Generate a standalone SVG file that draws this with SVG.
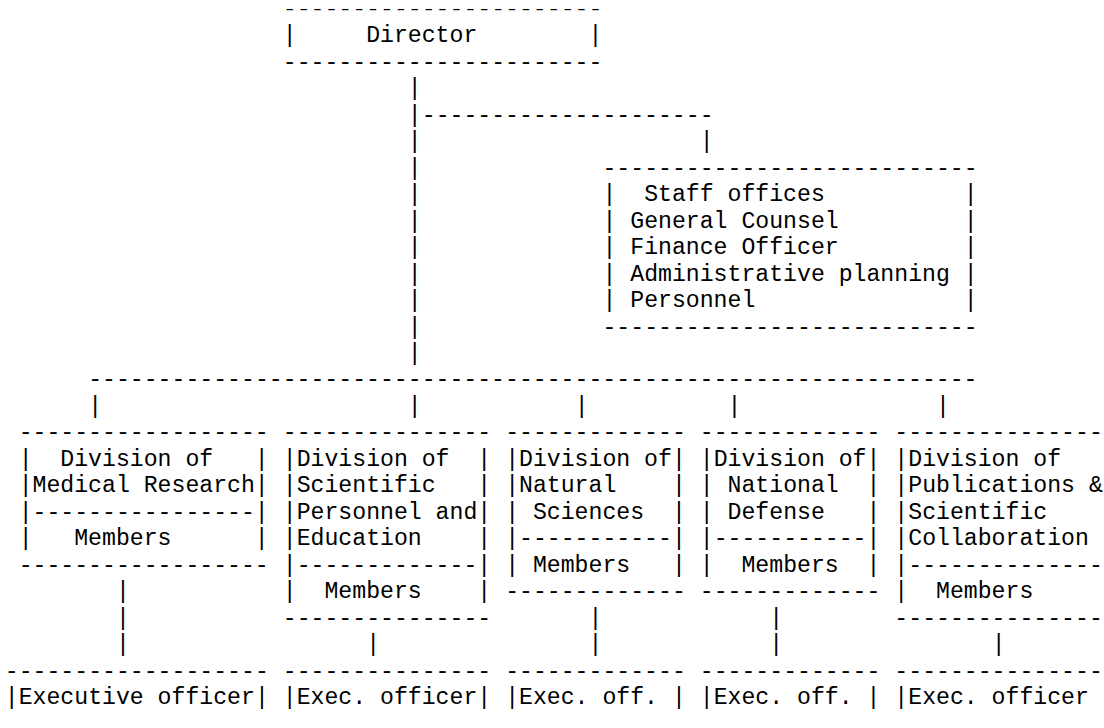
<svg xmlns="http://www.w3.org/2000/svg" width="1104" height="728" viewBox="0 0 1104 728">
<style>
text{font-family:"Liberation Mono","Courier New",monospace;font-size:23.17px;fill:#000;white-space:pre}
</style>
<rect width="1104" height="728" fill="#fff"/>
<g id="director">
<text transform="translate(282.75,14) scale(1,0.7)" x="0" y="0">-----------------------</text>
<text x="282.75" y="42.46">|     Director        |</text>
<text x="282.75" y="68.92">-----------------------</text>
</g>
<g id="staff-offices">
<text x="602.45" y="174.76">---------------------------</text>
<text x="602.45" y="201.22">|  Staff offices          |</text>
<text x="602.45" y="227.68">| General Counsel         |</text>
<text x="602.45" y="254.14">| Finance Officer         |</text>
<text x="602.45" y="280.6">| Administrative planning |</text>
<text x="602.45" y="307.06">| Personnel               |</text>
<text x="602.45" y="333.52">---------------------------</text>
</g>
<g id="div-medical">
<text x="18.65" y="439.36">------------------</text>
<text x="18.65" y="465.82">|  Division of   |</text>
<text x="18.65" y="492.28">|Medical Research|</text>
<text x="18.65" y="518.74">|----------------|</text>
<text x="18.65" y="545.2">|   Members      |</text>
<text x="18.65" y="571.66">------------------</text>
</g>
<g id="div-personnel">
<text x="282.75" y="439.36">---------------</text>
<text x="282.75" y="465.82">|Division of  |</text>
<text x="282.75" y="492.28">|Scientific   |</text>
<text x="282.75" y="518.74">|Personnel and|</text>
<text x="282.75" y="545.2">|Education    |</text>
<text x="282.75" y="571.66">|-------------|</text>
<text x="282.75" y="598.12">|  Members    |</text>
<text x="282.75" y="624.58">---------------</text>
</g>
<g id="div-natural">
<text x="505.15" y="439.36">-------------</text>
<text x="505.15" y="465.82">|Division of|</text>
<text x="505.15" y="492.28">|Natural    |</text>
<text x="505.15" y="518.74">| Sciences  |</text>
<text x="505.15" y="545.2">|-----------|</text>
<text x="505.15" y="571.66">| Members   |</text>
<text x="505.15" y="598.12">-------------</text>
</g>
<g id="div-defense">
<text x="699.75" y="439.36">-------------</text>
<text x="699.75" y="465.82">|Division of|</text>
<text x="699.75" y="492.28">| National  |</text>
<text x="699.75" y="518.74">| Defense   |</text>
<text x="699.75" y="545.2">|-----------|</text>
<text x="699.75" y="571.66">|  Members  |</text>
<text x="699.75" y="598.12">-------------</text>
</g>
<g id="div-publications">
<text x="894.35" y="439.36">---------------</text>
<text x="894.35" y="465.82">|Division of</text>
<text x="894.35" y="492.28">|Publications &amp;</text>
<text x="894.35" y="518.74">|Scientific</text>
<text x="894.35" y="545.2">|Collaboration</text>
<text x="894.35" y="571.66">|--------------</text>
<text x="894.35" y="598.12">|  Members</text>
<text x="894.35" y="624.58">---------------</text>
</g>
<g id="exec-medical">
<text x="4.75" y="677.5">-------------------</text>
<text x="4.75" y="703.96">|Executive officer|</text>
</g>
<g id="exec-personnel">
<text x="282.75" y="677.5">---------------</text>
<text x="282.75" y="703.96">|Exec. officer|</text>
</g>
<g id="exec-natural">
<text x="505.15" y="677.5">-------------</text>
<text x="505.15" y="703.96">|Exec. off. |</text>
</g>
<g id="exec-defense">
<text x="699.75" y="677.5">-------------</text>
<text x="699.75" y="703.96">|Exec. off. |</text>
</g>
<g id="exec-publications">
<text x="894.35" y="677.5">---------------</text>
<text x="894.35" y="703.96">|Exec. officer</text>
</g>
<g id="connectors">
<text x="407.85" y="95.38">|</text>
<text x="407.85" y="121.84">|---------------------</text>
<text x="407.85" y="148.3">|</text>
<text x="699.75" y="148.3">|</text>
<text x="407.85" y="174.76">|</text>
<text x="407.85" y="201.22">|</text>
<text x="407.85" y="227.68">|</text>
<text x="407.85" y="254.14">|</text>
<text x="407.85" y="280.6">|</text>
<text x="407.85" y="307.06">|</text>
<text x="407.85" y="333.52">|</text>
<text x="407.85" y="359.98">|</text>
<text x="88.15" y="386.44">----------------------------------------------------------------</text>
<text x="88.15" y="412.9">|</text>
<text x="407.85" y="412.9">|</text>
<text x="574.65" y="412.9">|</text>
<text x="727.55" y="412.9">|</text>
<text x="936.05" y="412.9">|</text>
<text x="115.95" y="598.12">|</text>
<text x="115.95" y="624.58">|</text>
<text x="115.95" y="651.04">|</text>
<text x="366.15" y="651.04">|</text>
<text x="588.55" y="624.58">|</text>
<text x="588.55" y="651.04">|</text>
<text x="769.25" y="624.58">|</text>
<text x="769.25" y="651.04">|</text>
<text x="991.65" y="651.04">|</text>
</g>
</svg>
